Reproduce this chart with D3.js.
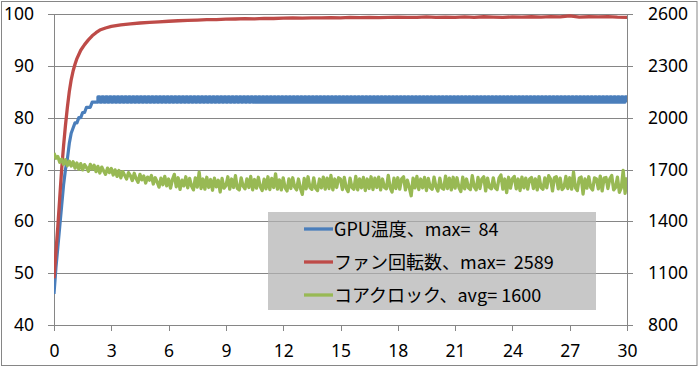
<!DOCTYPE html>
<html><head><meta charset="utf-8">
<script src="https://cdn.jsdelivr.net/npm/d3@7"></script>
<style>
html,body{margin:0;padding:0;background:#fff;}
svg{display:block;}
</style></head>
<body>
<script>
// ---------- data ----------
const sampleStep = 0.1; // minutes between samples for temp & clock
const xTicks = [0,3,6,9,12,15,18,21,24,27,30];
const leftTicks = [40,50,60,70,80,90,100];
const rightTicks = [800,1100,1400,1700,2000,2300,2600];
const seriesNames = ["GPU温度、max=  84","ファン回転数、max=  2589","コアクロック、avg= 1600"];
const seriesColors = ["#4a7ebb","#be4b48","#98b954"];
const tempRampEnd = 22; // sample index where the temperature reaches its plateau

const tempC = [
46,51,55,59,63,67,70,72,75,77,
78,79,79,80,80,81,81,82,82,82,
83,83,83,84,83,84,83,84,83,84,
83,84,83,84,83,84,83,84,83,84,
83,84,83,84,83,84,83,84,83,84,
83,84,83,84,83,84,83,84,83,84,
83,84,83,84,83,84,83,84,83,84,
83,84,83,84,83,84,83,84,83,84,
83,84,83,84,83,84,83,84,83,84,
83,84,83,84,83,84,83,84,83,84,
83,84,83,84,83,84,83,84,83,84,
83,84,83,84,83,84,83,84,83,84,
83,84,83,84,83,84,83,84,83,84,
83,84,83,84,83,84,83,84,83,84,
83,84,83,84,83,84,83,84,83,84,
83,84,83,84,83,84,83,84,83,84,
83,84,83,84,83,84,83,84,83,84,
83,84,83,84,83,84,83,84,83,84,
83,84,83,84,83,84,83,84,83,84,
83,84,83,84,83,84,83,84,83,84,
83,84,83,84,83,84,83,84,83,84,
83,84,83,84,83,84,83,84,83,84,
83,84,83,84,83,84,83,84,83,84,
83,84,83,84,83,84,83,84,83,84,
83,84,83,84,83,84,83,84,83,84,
83,84,83,84,83,84,83,84,83,84,
83,84,83,84,83,84,83,84,83,84,
83,84,83,84,83,84,83,84,83,84,
83,84,83,84,83,84,83,84,83,84,
83,84,83,84,83,84,83,84,83,84,
83
];

const clockMHz = [
1795,1765,1775,1742,1760,1730,1756,1722,1748,1720,
1745,1708,1738,1702,1734,1698,1728,1712,1690,1730,
1702,1725,1688,1718,1680,1714,1692,1672,1708,1682,
1706,1668,1698,1660,1694,1652,1688,1666,1645,1682,
1665,1636,1678,1648,1626,1672,1640,1662,1622,1656,
1638,1665,1616,1652,1628,1598,1650,1612,1660,1605,
1645,1592,1642,1672,1600,1652,1585,1638,1605,1658,
1594,1648,1605,1582,1652,1598,1685,1590,1645,1586,
1655,1596,1642,1580,1650,1600,1638,1570,1648,1592,
1606,1658,1586,1645,1596,1664,1590,1582,1652,1604,
1588,1646,1596,1660,1582,1642,1592,1655,1600,1578,
1644,1588,1658,1584,1648,1596,1675,1586,1640,1582,
1652,1594,1576,1646,1590,1652,1598,1582,1645,1592,
1556,1648,1588,1658,1596,1585,1652,1590,1578,1645,
1594,1656,1586,1650,1590,1666,1582,1645,1596,1652,
1644,1584,1654,1592,1572,1650,1596,1586,1660,1582,
1646,1594,1654,1578,1645,1590,1658,1584,1650,1596,
1656,1582,1645,1596,1588,1666,1594,1570,1650,1590,
1652,1586,1646,1658,1582,1638,1596,1548,1650,1594,
1660,1584,1645,1594,1654,1578,1648,1596,1586,1656,
1598,1575,1650,1594,1586,1662,1590,1650,1582,1655,
1592,1652,1596,1572,1656,1588,1645,1594,1584,1664,
1600,1582,1654,1590,1645,1658,1576,1650,1596,1588,
1652,1594,1584,1650,1668,1586,1645,1566,1655,1592,
1646,1660,1588,1645,1578,1656,1594,1650,1586,1645,
1654,1590,1646,1582,1658,1596,1586,1652,1594,1664,
1645,1576,1652,1658,1588,1650,1584,1596,1660,1590,
1652,1586,1685,1594,1578,1650,1656,1558,1645,1592,
1658,1596,1582,1652,1645,1588,1662,1576,1650,1654,
1590,1646,1665,1582,1596,1656,1568,1594,1695,1562,
1655
];

const fanTime = [0,0.1,0.2,0.3,0.4,0.5,0.6,0.7,0.8,0.9,1.0,1.1,1.2,1.4,1.6,1.8,2.0,2.2,2.4,2.7,3.0,3.5,4,4.5,5,5.5,6,6.5,7,7.5,8,8.5,9,9.5,10,10.5,11,11.5,12,12.5,13,13.5,14,14.5,15,15.5,16,16.5,17,17.5,18,18.5,19,19.5,20,20.5,21,21.5,22,22.5,23,23.5,24,24.5,25,25.5,26,26.5,27,27.5,28,28.5,29,29.5,30];
const fanRpm = [1070,1220,1370,1535,1700,1835,1955,2060,2150,2219,2270,2309,2342,2390,2423,2450,2474,2492,2507,2519,2528,2537,2543,2548,2552,2555,2558,2561,2563,2565,2567,2568,2570,2571,2573,2572,2575,2574,2576,2577,2576,2578,2577,2579,2578,2580,2579,2581,2579,2580,2582,2580,2581,2583,2581,2582,2580,2583,2581,2584,2582,2581,2583,2582,2584,2582,2585,2583,2589,2582,2584,2583,2585,2582,2581];

// ---------- layout ----------
const W = 699, H = 367;
const m = {left:54, right:72, top:14, bottom:42};
const iw = W - m.left - m.right, ih = H - m.top - m.bottom;
const FONT = "'Noto Sans', 'Noto Sans CJK JP', sans-serif";
const gridColor = "#868686";

const svg = d3.select("body").append("svg").attr("width", W).attr("height", H);

svg.append("rect").attr("x",1.5).attr("y",1.5).attr("width",W-3.5).attr("height",H-3)
  .attr("fill","#fff").attr("stroke",gridColor).attr("stroke-width",1);

const g = svg.append("g").attr("transform",`translate(${m.left},${m.top})`);

const x = d3.scaleLinear().domain([0,30]).range([0,iw]);
const yL = d3.scaleLinear().domain([40,100]).range([ih,0]);
const yR = d3.scaleLinear().domain([800,2600]).range([ih,0]);

// gridlines
g.append("g").attr("class","grid")
  .call(d3.axisLeft(yL).tickValues(leftTicks).tickSize(-iw).tickFormat(""))
  .call(s=>s.select(".domain").remove())
  .call(s=>s.selectAll("line").attr("stroke",gridColor).attr("shape-rendering","crispEdges"));

function styleAxis(s){
  s.select(".domain").attr("stroke",gridColor).attr("shape-rendering","crispEdges");
  s.selectAll(".tick line").attr("stroke",gridColor).attr("shape-rendering","crispEdges");
  s.selectAll("text").attr("fill","#000").style("font-family",FONT).style("font-size","17.5px");
}
g.append("g").call(d3.axisLeft(yL).tickValues(leftTicks).tickSize(6).tickSizeOuter(0).tickPadding(14).tickFormat(d3.format("d"))).call(styleAxis);
g.append("g").attr("transform",`translate(${iw},0)`)
  .call(d3.axisRight(yR).tickValues(rightTicks).tickSize(6).tickSizeOuter(0).tickPadding(15).tickFormat(d3.format("d"))).call(styleAxis);
g.append("g").attr("transform",`translate(0,${ih})`)
  .call(d3.axisBottom(x).tickValues(xTicks).tickSize(6).tickSizeOuter(0).tickPadding(14).tickFormat(d3.format("d"))).call(styleAxis);

// clip
svg.append("clipPath").attr("id","clip").append("rect").attr("x",0).attr("y",-4).attr("width",iw).attr("height",ih+8);
const plot = g.append("g").attr("clip-path","url(#clip)");

const tempPts = tempC.map((v,i)=>({t:i*sampleStep, v}));
const lineTempRamp = d3.line().x(d=>x(d.t)).y(d=>yL(d.v));
const lineTempFlat = d3.line().curve(d3.curveStepAfter).x(d=>x(d.t)).y(d=>yL(d.v));
const lineClock = d3.line().x((d,i)=>x(i*sampleStep)).y(d=>yR(d));
const lineFan = d3.line().x((d,i)=>x(fanTime[i])).y(d=>yR(d));

const blue = plot.append("g").attr("fill","none").attr("stroke",seriesColors[0])
  .attr("stroke-width",3.2).attr("stroke-linejoin","round");
blue.append("path").attr("d",lineTempRamp(tempPts.slice(0,tempRampEnd+1)));
blue.append("path").attr("d",lineTempFlat(tempPts.slice(tempRampEnd)));

plot.append("path").datum(fanRpm).attr("d",lineFan).attr("fill","none")
  .attr("stroke",seriesColors[1]).attr("stroke-width",3.3).attr("stroke-linejoin","round");
plot.append("path").datum(clockMHz).attr("d",lineClock).attr("fill","none")
  .attr("stroke",seriesColors[2]).attr("stroke-width",3.3).attr("stroke-linejoin","round");

// legend
const lg = svg.append("g").attr("transform","translate(268,212)");
lg.append("rect").attr("width",328).attr("height",98).attr("fill","#b3b3b3").attr("fill-opacity",0.72);
seriesNames.forEach((name,i)=>{
  const yy = 17 + i*33;
  lg.append("line").attr("x1",36).attr("x2",65).attr("y1",yy).attr("y2",yy)
    .attr("stroke",seriesColors[i]).attr("stroke-width",3.3);
  lg.append("text").attr("x",66).attr("y",yy+7).text(name)
    .style("white-space","pre")
    .style("font-family","'Noto Sans CJK JP', sans-serif").style("font-size","18px").attr("fill","#000");
});
</script>
</body></html>
